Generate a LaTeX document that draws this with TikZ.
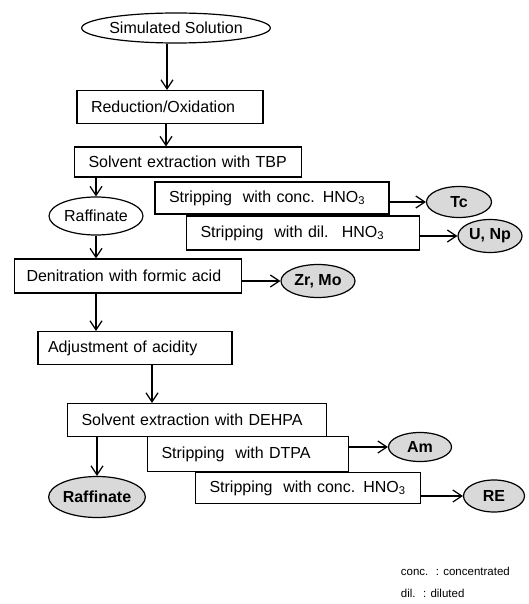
\documentclass[tikz,border=0pt]{standalone}
\usepackage{fontspec}
\setmainfont{Liberation Sans}
\usepackage{tikz}
\usetikzlibrary{arrows.meta,shapes.geometric}

\begin{document}
\begin{tikzpicture}[x=1pt,y=-1pt,->,>={Straight Barb[length=9pt,width=12pt]},
        line width=1.2pt,font=\fontsize{16}{19}\selectfont,
        proc/.style={draw,rectangle,inner xsep=14pt,inner ysep=0pt,align=left,minimum height=32pt},
        feed/.style={draw,ellipse,inner sep=0pt},
        prod/.style={draw,ellipse,inner sep=0pt,fill=gray!30,font=\fontsize{16}{19}\selectfont\bfseries},
        note/.style={anchor=west,font=\fontsize{11.5}{13}\selectfont}]

  \useasboundingbox (0,0) rectangle (528,604);

  \node[feed,minimum width=163pt,minimum height=30pt] (sim) at (176,28) {Simulated Solution};
  \node[proc,text width=158pt,minimum height=33pt] (red) at (170,107) {Reduction/Oxidation};
  \node[proc,text width=199pt,minimum height=30pt] (tbp) at (188,162) {Solvent extraction with TBP};
  \node[proc,text width=206pt] (conc) at (272,198) {Stripping~ with conc. HNO\textsubscript{3}};
  \node[proc,text width=205pt,minimum height=34pt] (dil) at (303,233) {Stripping~ with dil.~ HNO\textsubscript{3}};
  \node[prod,minimum width=65pt,minimum height=31pt] (tc) at (459,202) {Tc};
  \node[prod,minimum width=64pt,minimum height=33pt] (unp) at (490,236) {U, Np};
  \node[feed,minimum width=94pt,minimum height=38pt] (raf1) at (96,216) {Raffinate};
  \node[proc,text width=203pt,inner xsep=12pt,minimum height=34pt] (den) at (128,276) {Denitration with formic acid};
  \node[prod,minimum width=74pt,minimum height=33pt] (zrmo) at (318,281) {Zr, Mo};
  \node[proc,text width=174pt,inner xsep=10pt,minimum height=33pt] (adj) at (135,348) {Adjustment of acidity};
  \node[proc,text width=231pt,minimum height=33pt] (dehpa) at (197,420) {Solvent extraction with DEHPA};
  \node[proc,text width=173pt,minimum height=35pt] (dtpa) at (248,454) {Stripping~ with DTPA};
  \node[proc,text width=197pt,minimum height=31pt] (conc2) at (308,488) {Stripping~ with conc. HNO\textsubscript{3}};
  \node[prod,minimum width=94pt,minimum height=41pt] (raf2) at (97,497) {Raffinate};
  \node[prod,minimum width=63pt,minimum height=29pt] (am) at (420,447) {Am};
  \node[prod,minimum width=61pt,minimum height=32pt] (re) at (494,496) {RE};

  \node[note] (lconc) at (397,571) {conc.~ : concentrated};
  \node[note] (ldil) at (397,593) {dil.~ : diluted};

  % main line
  \draw ([xshift=-9pt]sim.south) -- ([xshift=-9pt]sim.south |- red.north);
  \draw ([xshift=-4pt]red.south) -- ([xshift=-4pt]red.south |- tbp.north);
  \draw (tbp.south -| raf1) -- (raf1.north);
  \draw (raf1.south) -- (raf1.south |- den.north);
  \draw (raf1.south |- den.south) -- (raf1.south |- adj.north);
  \draw ([xshift=17pt]adj.south) -- ([xshift=17pt]adj.south |- dehpa.north);
  \draw (dehpa.south -| raf2) -- (raf2.north);

  % products
  \draw (conc.east |- tc.west) -- (tc.west);
  \draw (dil.east |- unp.west) -- (unp.west);
  \draw (den.east |- zrmo.west) -- (zrmo.west);
  \draw (dtpa.east |- am.west) -- (am.west);
  \draw (conc2.east |- re.west) -- (re.west);

\end{tikzpicture}
\end{document}
